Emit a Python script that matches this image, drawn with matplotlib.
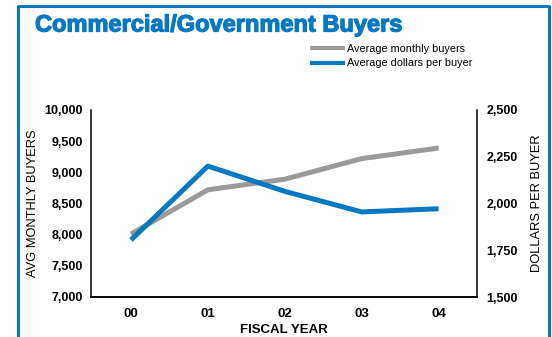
import matplotlib.pyplot as plt
import matplotlib.patheffects as pe
from matplotlib.lines import Line2D

years = ['00', '01', '02', '03', '04']
monthly_buyers = [8010, 8720, 8890, 9220, 9390]
dollars_per_buyer = [1805, 2200, 2065, 1955, 1972]
left_ticks = [7000, 7500, 8000, 8500, 9000, 9500, 10000]
right_ticks = [1500, 1750, 2000, 2250, 2500]

BLUE = '#0878c0'
GRAY = '#9a9a9c'
FONT = 'Liberation Sans'

fig = plt.figure(figsize=(5.52, 3.37), dpi=100)

# blue frame around the figure (open at the bottom)
fig.add_artist(Line2D([18 / 552, 18 / 552, 549 / 552, 549 / 552],
                      [0, 1 - 6 / 337, 1 - 6 / 337, 0],
                      transform=fig.transFigure, color=BLUE, lw=2.2))

fig.text(35 / 552, 1 - 25 / 337, 'Commercial/Government Buyers', color=BLUE,
         fontsize=17, fontweight='bold', family=FONT,
         va='center', ha='left',
         path_effects=[pe.withStroke(linewidth=0.9, foreground=BLUE)])

ax = fig.add_axes([91 / 552, 40 / 337, (477 - 91) / 552, (297 - 110) / 337])
x = range(len(years))
ax.plot(x, monthly_buyers, color=GRAY, lw=3.6, solid_capstyle='butt')
ax.set_xlim(-0.52, 4.5)
ax.set_ylim(7000, 10000)
ax.set_yticks(left_ticks)
ax.set_yticklabels([f'{v:,}' for v in left_ticks], family=FONT,
                   fontweight='bold', fontsize=9)
ax.set_xticks(list(x))
ax.set_xticklabels(years, family=FONT, fontweight='bold', fontsize=9.5)
ax.tick_params(axis='y', length=0, pad=6)
ax.tick_params(axis='x', length=0, pad=8)
ax.spines['top'].set_visible(False)
ax.spines['right'].set_visible(False)
ax.set_xlabel('FISCAL YEAR', family=FONT, fontweight='bold', fontsize=9.5,
              labelpad=2.5)
ax.set_ylabel('AVG MONTHLY BUYERS', family=FONT, fontsize=9.3, labelpad=4)

ax2 = ax.twinx()
ax2.plot(x, dollars_per_buyer, color=BLUE, lw=3.6, solid_capstyle='butt')
ax2.set_ylim(1500, 2500)
ax2.set_yticks(right_ticks)
ax2.set_yticklabels([f'{v:,}' for v in right_ticks], family=FONT,
                    fontweight='bold', fontsize=9)
ax2.tick_params(length=0, pad=7)
ax2.spines['top'].set_visible(False)
ax2.spines['left'].set_visible(False)
ax2.set_ylabel('DOLLARS PER BUYER', family=FONT, fontsize=9.3, labelpad=9)

for a in (ax, ax2):
    for s in a.spines.values():
        s.set_linewidth(1.1)

ax.legend(handles=[Line2D([], [], color=GRAY, lw=3, solid_capstyle='butt'),
                   Line2D([], [], color=BLUE, lw=3, solid_capstyle='butt')],
          labels=['Average monthly buyers', 'Average dollars per buyer'],
          loc='upper left', bbox_to_anchor=(310 / 552, 1 - 44 / 337),
          bbox_transform=fig.transFigure, frameon=False, handlelength=3.2,
          handletextpad=0.25, labelspacing=0.4, borderpad=0, borderaxespad=0,
          prop={'family': FONT, 'size': 7.8})

fig.savefig('out.png', dpi=100)
